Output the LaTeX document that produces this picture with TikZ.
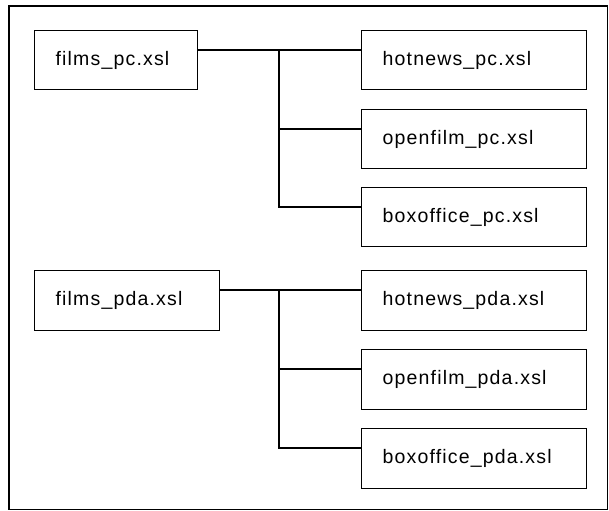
\documentclass[tikz,border=0pt]{standalone}
\usepackage{fontspec}
\setmainfont{Liberation Sans}[LetterSpace=6]
\usetikzlibrary{positioning}

\begin{document}
\begin{tikzpicture}[x=1bp, y=-1bp,
  line width=1.3bp,
  file/.style={draw, rectangle, anchor=north west, inner xsep=21bp, inner ysep=0pt,
    align=left, font=\fontsize{19.5bp}{23bp}\selectfont},
  leaf/.style={file, text width=183bp, minimum height=59bp},
]
\useasboundingbox (0,0) rectangle (609,511);
\draw (9,6) rectangle (607.5,509.5);
% pc group
\node[file, text width=121bp, minimum height=59bp] (films_pc) at (34,30) {films\_pc.xsl};
\node[leaf] (hotnews_pc) at (361,30) {hotnews\_pc.xsl};
\node[leaf] (openfilm_pc) at (361,109) {openfilm\_pc.xsl};
\node[leaf] (boxoffice_pc) at (361,187) {boxoffice\_pc.xsl};
\coordinate (pc_join) at (279,50);
\draw ([yshift=-20bp]films_pc.north east) -- ([yshift=-20bp]hotnews_pc.north west);
\draw (pc_join) |- ([yshift=-20bp]boxoffice_pc.north west);
\draw ([yshift=-20bp]openfilm_pc.north west) -| (pc_join);
% pda group
\node[file, text width=143bp, minimum height=60bp] (films_pda) at (34,270) {films\_pda.xsl};
\node[leaf, minimum height=60bp] (hotnews_pda) at (361,270) {hotnews\_pda.xsl};
\node[leaf, minimum height=60bp] (openfilm_pda) at (361,349) {openfilm\_pda.xsl};
\node[leaf, minimum height=60bp] (boxoffice_pda) at (361,428) {boxoffice\_pda.xsl};
\coordinate (pda_join) at (279,290);
\draw ([yshift=-20bp]films_pda.north east) -- ([yshift=-20bp]hotnews_pda.north west);
\draw (pda_join) |- ([yshift=-20bp]boxoffice_pda.north west);
\draw ([yshift=-20bp]openfilm_pda.north west) -| (pda_join);
\end{tikzpicture}
\end{document}
